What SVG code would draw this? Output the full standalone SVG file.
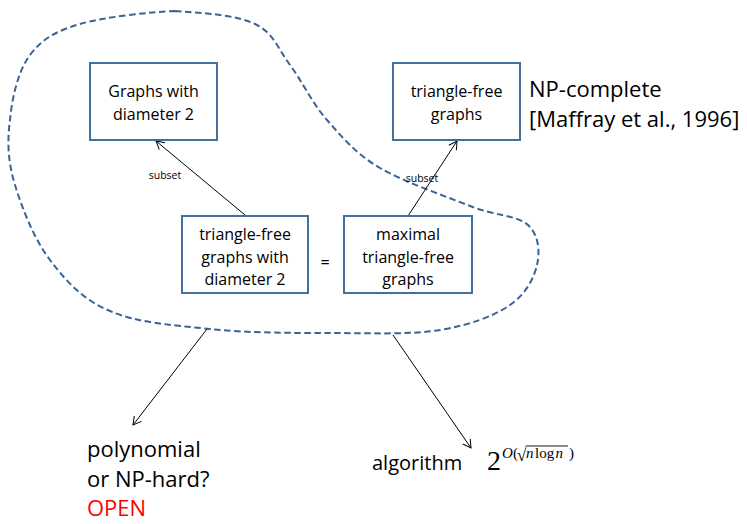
<svg xmlns="http://www.w3.org/2000/svg" width="747" height="524" viewBox="0 0 747 524">
<style>
.box{fill:#fff;stroke:#41719C;stroke-width:2}
.bt{font-family:"Open Sans","Liberation Sans",sans-serif;font-size:16px;fill:#000;text-anchor:middle}
.big{font-family:"Open Sans","Liberation Sans",sans-serif;font-size:22px;fill:#000}
.sub{font-family:"Open Sans","Liberation Sans",sans-serif;font-size:10.5px;fill:#000;text-anchor:middle}
.con{stroke:#000;stroke-width:1;fill:none;marker-end:url(#ah)}
.math{font-family:"Liberation Serif","Times New Roman",serif;fill:#000}
</style>
<defs>
<marker id="ah" viewBox="-10 -6 12 12" refX="0" refY="0" markerWidth="12" markerHeight="12" markerUnits="userSpaceOnUse" orient="auto">
<path d="M-8,-4.5 L0,0 L-8,4.5" fill="none" stroke="#000" stroke-width="1"/>
</marker>
</defs>
<rect width="747" height="524" fill="#fff"/>

<g id="region">
<path d="M175,11 C205,13 236,15 255,24 C274,33 278,49 290,65 C302,81 312,103 327,120 C342,137 356,154 380,168 C404,182 445,196 470,206 C495,216 517,215 528,225 C539,235 540,252 537,265 C534,278 526,294 510,305 C494,316 470,325 440,330 C410,335 368,333 330,333 C292,333 247,333 210,329 C173,325 137,323 110,311 C83,300 66,281 50,260 C34,239 22,208 15,185 C8,162 7,142 10,120 C12,98 18,71 30,55 C42,39 56,31 80,24 C104,17 150,12 175,11 Z" fill="none" stroke="#3B6396" stroke-width="2" stroke-dasharray="6.5 3.5"/>
</g>

<g id="connectors">
<line class="con" x1="245" y1="215" x2="156" y2="141"/>
<line class="con" x1="408" y1="216" x2="457" y2="141"/>
<line class="con" x1="207" y1="329" x2="133" y2="425"/>
<line class="con" x1="393" y1="335" x2="471" y2="448"/>
<text class="sub" x="165" y="179">subset</text>
<text class="sub" x="422" y="182">subset</text>
</g>

<g id="n-diam2">
<rect class="box" x="90" y="63" width="127" height="77"/>
<text class="bt" x="153.5" y="97">Graphs with</text>
<text class="bt" x="153.5" y="120">diameter 2</text>
</g>

<g id="n-trifree">
<rect class="box" x="393" y="63" width="127" height="77"/>
<text class="bt" x="456.5" y="97">triangle-free</text>
<text class="bt" x="456.5" y="120">graphs</text>
</g>

<g id="n-trifree-diam2">
<rect class="box" x="182" y="216" width="126" height="77"/>
<text class="bt" x="245" y="240">triangle-free</text>
<text class="bt" x="245" y="263">graphs with</text>
<text class="bt" x="245" y="285">diameter 2</text>
</g>

<g id="n-eq">
<text class="bt" x="325" y="268">=</text>
</g>

<g id="n-maximal">
<rect class="box" x="344" y="216" width="128" height="77"/>
<text class="bt" x="408" y="240">maximal</text>
<text class="bt" x="408" y="263">triangle-free</text>
<text class="bt" x="408" y="285">graphs</text>
</g>

<g id="n-npc">
<text class="big" x="529" y="97">NP-complete</text>
<text class="big" x="529" y="127">[Maffray et al., 1996]</text>
</g>

<g id="n-open">
<text class="big" x="87" y="457">polynomial</text>
<text class="big" x="87" y="487">or NP-hard?</text>
<text class="big" x="87" y="516" style="fill:#FF0000">OPEN</text>
</g>

<g id="n-algo">
<text class="big" x="372" y="470" style="font-size:20px">algorithm</text>
<text class="math" x="487" y="470" font-size="28">2</text>
<text class="math" x="502" y="458" font-size="15" font-style="italic">O</text>
<text class="math" x="513" y="458" font-size="15">(</text>
<text class="math" x="517" y="461" font-size="17">√</text>
<line x1="525.5" y1="446" x2="568" y2="446" stroke="#000" stroke-width="0.9"/>
<text class="math" x="526" y="458" font-size="15" font-style="italic">n</text>
<text class="math" x="535" y="458" font-size="15">log</text>
<text class="math" x="555.5" y="458" font-size="15" font-style="italic">n</text>
<text class="math" x="569" y="458" font-size="15">)</text>
</g>
</svg>
